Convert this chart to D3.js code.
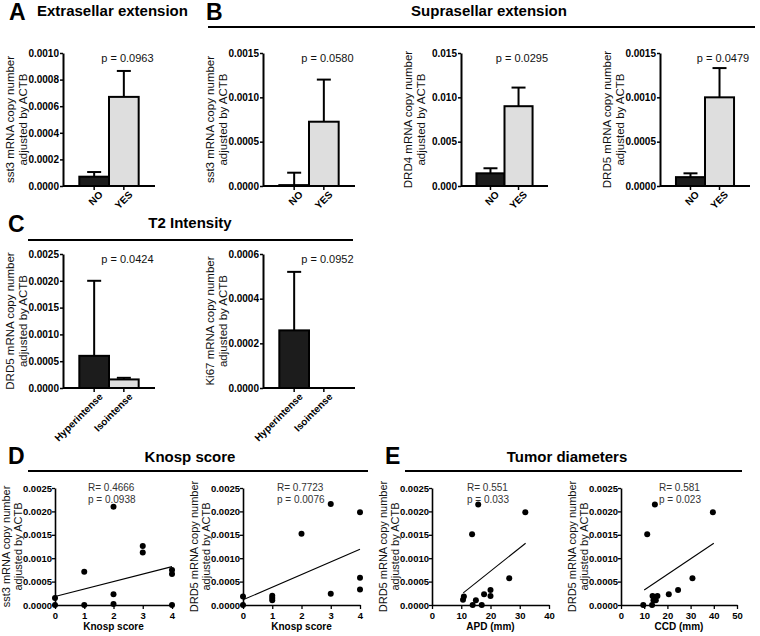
<!DOCTYPE html>
<html><head><meta charset="utf-8">
<script src="https://cdn.jsdelivr.net/npm/d3@7"></script>
<style>body{margin:0;background:#fff}svg{display:block}text{font-family:"Liberation Sans",Arial,sans-serif}</style>
</head><body>
<svg id="chart" width="760" height="636"></svg>
<script>
// ---------- data ----------
const yesNoCategories = ["NO", "YES"];
const t2Categories = ["Hyperintense", "Isointense"];

const extraSst3Mean = [0.00007, 0.00067];
const extraSst3Sem = [0.000035, 0.000195];
const supraSst3Mean = [0.00001, 0.000725];
const supraSst3Sem = [0.00014, 0.000475];
const supraDrd4Mean = [0.00143, 0.0090];
const supraDrd4Sem = [0.00057, 0.0021];
const supraDrd5Mean = [0.0001, 0.0010];
const supraDrd5Sem = [0.000043, 0.00033];
const t2Drd5Mean = [0.0006, 0.00016];
const t2Drd5Sem = [0.0014, 0.00003];
const t2Ki67Mean = [0.000258, 0];
const t2Ki67Sem = [0.000262, 0];

const knospScoreA = [0, 0, 1, 1, 2, 2, 2, 3, 3, 4, 4, 4];
const knospSst3 = [0.00015, 0, 0.00071, 0, 0.0021, 0.00023, 0.00002, 0.00126, 0.00112, 0.00075, 0.00066, 0];
const knospSst3Fit = { x: [0, 4], y: [0.00018, 0.00082] };
const knospScoreB = [0, 0, 1, 1, 1, 2, 3, 3, 4, 4, 4];
const knospDrd5 = [0.00018, 0, 0.0002, 0.00015, 0.0001, 0.00152, 0.00216, 0.00024, 0.00198, 0.00058, 0.00033];
const knospDrd5Fit = { x: [0, 4], y: [0.00011, 0.00119] };

const apdMm = [15.8, 31.9, 13.7, 26.4, 20, 20, 17.8, 15, 10.9, 10.6, 13.9, 17];
const apdDrd5 = [0.00215, 0.00198, 0.00151, 0.00057, 0.00032, 0.00019, 0.00023, 0.0001, 0.00018, 0.00011, 0, 0];
const apdFit = { x: [10.7, 32], y: [0.00026, 0.00132] };
const ccdMm = [14.6, 39.6, 11.3, 30.8, 24.6, 20.6, 15.7, 13.6, 14, 15, 9.6, 13.4];
const ccdDrd5 = [0.00215, 0.00198, 0.00151, 0.00057, 0.00032, 0.00023, 0.00019, 0.00019, 0.0001, 0.0001, 0, 0];
const ccdFit = { x: [10, 40], y: [0.00032, 0.00132] };

const barFills = ["#1c1c1c", "#dedede"];

// ---------- drawing ----------
const svg = d3.select("#chart");
svg.append("rect").attr("width", 760).attr("height", 636).attr("fill", "#fff");

function yLabel(g, cx, cy, lines, size) {
  lines.forEach((t, i) => {
    g.append("text").attr("transform", `translate(${cx[i]},${cy}) rotate(-90)`)
      .attr("text-anchor", "middle").attr("dy", "0.35em")
      .attr("font-size", size).attr("fill", "#111").text(t);
  });
}

function drawBar(c) {
  const g = svg.append("g");
  const y = d3.scaleLinear().domain([0, c.yMax]).range([c.bottom, c.top]);
  const x = d3.scaleBand().domain(c.cats).range([c.x0, c.x1]).paddingInner(0).paddingOuter(0.55);
  const ticks = d3.range(0, c.yMax + c.step / 2, c.step);
  const ax = g.append("g").attr("transform", `translate(${c.x0},0)`)
    .call(d3.axisLeft(y).tickValues(ticks).tickFormat(d3.format(`.${c.dec}f`)).tickSize(3).tickSizeOuter(0).tickPadding(1));
  ax.select(".domain").attr("stroke-width", 2);
  ax.selectAll(".tick line").attr("stroke-width", 1.5);
  ax.selectAll(".tick text").attr("font-size", 10).attr("font-weight", "bold").attr("fill", "#000")
    .attr("font-family", '"Liberation Sans",Arial,sans-serif');
  c.cats.forEach((cat, i) => {
    const m = c.means[i], s = c.sems[i];
    const cx = x(cat) + x.bandwidth() / 2;
    if (s > 0) {
      g.append("line").attr("x1", cx).attr("x2", cx).attr("y1", y(m)).attr("y2", y(m + s)).attr("stroke", "#000").attr("stroke-width", 2);
      g.append("line").attr("x1", cx - 7).attr("x2", cx + 7).attr("y1", y(m + s)).attr("y2", y(m + s)).attr("stroke", "#000").attr("stroke-width", 2);
    }
    if (m > 0) {
      g.append("rect").attr("x", x(cat)).attr("y", y(m)).attr("width", x.bandwidth()).attr("height", c.bottom - y(m))
        .attr("fill", barFills[i]).attr("stroke", "#000").attr("stroke-width", 2);
    }
  });
  const xa = g.append("g").attr("transform", `translate(0,${c.bottom})`)
    .call(d3.axisBottom(x).tickSize(4).tickSizeOuter(0).tickPadding(2));
  xa.select(".domain").attr("stroke-width", 2).attr("d", `M${c.x0},0H${c.x1}`);
  xa.selectAll(".tick line").attr("stroke-width", 1.5);
  xa.selectAll(".tick text").attr("font-size", 10).attr("font-weight", "bold").attr("fill", "#000")
    .attr("text-anchor", "end").attr("transform", "translate(4,4) rotate(-45)").attr("dy", "0.35em").attr("y", 4)
    .attr("font-family", '"Liberation Sans",Arial,sans-serif');
  g.append("text").attr("x", c.x0 + 0.7 * (c.x1 - c.x0)).attr("y", c.top + 9).attr("text-anchor", "middle")
    .attr("font-size", 11).attr("fill", "#111").text(c.p);
  yLabel(g, [c.x0 - 53, c.x0 - 40], (c.top + c.bottom) / 2, c.ylab, 11.5);
}

function drawScatter(c) {
  const g = svg.append("g");
  const y = d3.scaleLinear().domain([0, 0.0025]).range([c.bottom, c.top]);
  const x = d3.scaleLinear().domain(c.xDomain).range([c.x0, c.x1]);
  const ay = g.append("g").attr("transform", `translate(${c.x0},0)`)
    .call(d3.axisLeft(y).tickValues(d3.range(0, 0.00251, 0.0005)).tickFormat(d3.format(".4f")).tickSize(3).tickSizeOuter(0).tickPadding(0));
  const axx = g.append("g").attr("transform", `translate(0,${c.bottom})`)
    .call(d3.axisBottom(x).tickValues(c.xTicks).tickFormat(d3.format("d")).tickSize(4).tickSizeOuter(0).tickPadding(3));
  [ay, axx].forEach(a => {
    a.select(".domain").attr("stroke-width", 1.6);
    a.selectAll(".tick line").attr("stroke-width", 1.3);
    a.selectAll(".tick text").attr("font-size", 9.5).attr("font-weight", "bold").attr("fill", "#000")
      .attr("font-family", '"Liberation Sans",Arial,sans-serif');
  });
  g.append("line").attr("x1", x(c.fit.x[0])).attr("x2", x(c.fit.x[1])).attr("y1", y(c.fit.y[0])).attr("y2", y(c.fit.y[1]))
    .attr("stroke", "#000").attr("stroke-width", 1.1);
  g.selectAll("circle.pt").data(c.xs.map((v, i) => [v, c.ys[i]])).join("circle")
    .attr("cx", d => x(d[0])).attr("cy", d => y(d[1])).attr("r", 3).attr("fill", "#000");
  g.append("text").attr("x", (c.x0 + c.x1) / 2).attr("y", c.bottom + 25).attr("text-anchor", "middle")
    .attr("font-size", 10).attr("font-weight", "bold").attr("fill", "#000").text(c.xlab);
  const tx = c.x0 + c.textDx;
  g.append("text").attr("x", tx).attr("y", c.top + 3).attr("font-size", 10).attr("fill", "#333").text(c.R);
  g.append("text").attr("x", tx).attr("y", c.top + 15).attr("font-size", 10).attr("fill", "#333").text(c.p);
  yLabel(g, [c.x0 - 49, c.x0 - 37], (c.top + c.bottom) / 2, c.ylab, 11);
}

function header(letter, lx, ly, title, tx, ty, anchor, line) {
  svg.append("text").attr("x", lx).attr("y", ly).attr("font-size", 23).attr("font-weight", "bold").text(letter);
  svg.append("text").attr("x", tx).attr("y", ty).attr("text-anchor", anchor).attr("font-size", 15).attr("font-weight", "bold").text(title);
  if (line) svg.append("line").attr("x1", line[0]).attr("x2", line[1]).attr("y1", line[2]).attr("y2", line[2])
    .attr("stroke", "#000").attr("stroke-width", 2);
}

header("A", 9, 20, "Extrasellar extension", 37, 16, "start", null);
header("B", 206, 20, "Suprasellar extension", 489, 16, "middle", [208, 755, 27]);
header("C", 8, 232, "T2 Intensity", 190, 228, "middle", [28, 353, 240]);
header("D", 8, 464, "Knosp score", 190, 462, "middle", [28, 368, 471]);
header("E", 385, 464, "Tumor diameters", 567, 462, "middle", [405, 742, 471]);

const mrna = g => [g + " mRNA copy number", "adjusted by ACTB"];

drawBar({ x0: 63, x1: 155, top: 53, bottom: 186, yMax: 0.0010, step: 0.0002, dec: 4, cats: yesNoCategories,
  means: extraSst3Mean, sems: extraSst3Sem, p: "p = 0.0963", ylab: mrna("sst3") });
drawBar({ x0: 263, x1: 355, top: 53, bottom: 186, yMax: 0.0015, step: 0.0005, dec: 4, cats: yesNoCategories,
  means: supraSst3Mean, sems: supraSst3Sem, p: "p = 0.0580", ylab: mrna("sst3") });
drawBar({ x0: 461, x1: 548, top: 53, bottom: 186, yMax: 0.015, step: 0.005, dec: 3, cats: yesNoCategories,
  means: supraDrd4Mean, sems: supraDrd4Sem, p: "p = 0.0295", ylab: mrna("DRD4") });
drawBar({ x0: 660, x1: 750, top: 53, bottom: 186, yMax: 0.0015, step: 0.0005, dec: 4, cats: yesNoCategories,
  means: supraDrd5Mean, sems: supraDrd5Sem, p: "p = 0.0479", ylab: mrna("DRD5") });
drawBar({ x0: 63, x1: 155, top: 254, bottom: 388, yMax: 0.0025, step: 0.0005, dec: 4, cats: t2Categories,
  means: t2Drd5Mean, sems: t2Drd5Sem, p: "p = 0.0424", ylab: mrna("DRD5") });
drawBar({ x0: 263, x1: 355, top: 254, bottom: 388, yMax: 0.0006, step: 0.0002, dec: 4, cats: t2Categories,
  means: t2Ki67Mean, sems: t2Ki67Sem, p: "p = 0.0952", ylab: mrna("Ki67") });

drawScatter({ x0: 55, x1: 172, top: 488, bottom: 605, xDomain: [0, 4], xTicks: [0, 1, 2, 3, 4], xs: knospScoreA, ys: knospSst3,
  fit: knospSst3Fit, xlab: "Knosp score", R: "R= 0.4666", p: "p = 0.0938", textDx: 33, ylab: mrna("sst3") });
drawScatter({ x0: 243, x1: 360, top: 488, bottom: 605, xDomain: [0, 4], xTicks: [0, 1, 2, 3, 4], xs: knospScoreB, ys: knospDrd5,
  fit: knospDrd5Fit, xlab: "Knosp score", R: "R= 0.7723", p: "p = 0.0076", textDx: 34, ylab: mrna("DRD5") });
drawScatter({ x0: 432, x1: 549, top: 488, bottom: 605, xDomain: [0, 40], xTicks: [0, 10, 20, 30, 40], xs: apdMm, ys: apdDrd5,
  fit: apdFit, xlab: "APD (mm)", R: "R= 0.551", p: "p = 0.033", textDx: 35, ylab: mrna("DRD5") });
drawScatter({ x0: 621, x1: 737, top: 488, bottom: 605, xDomain: [0, 50], xTicks: [0, 10, 20, 30, 40, 50], xs: ccdMm, ys: ccdDrd5,
  fit: ccdFit, xlab: "CCD (mm)", R: "R= 0.581", p: "p = 0.023", textDx: 38, ylab: mrna("DRD5") });
</script>
</body></html>
